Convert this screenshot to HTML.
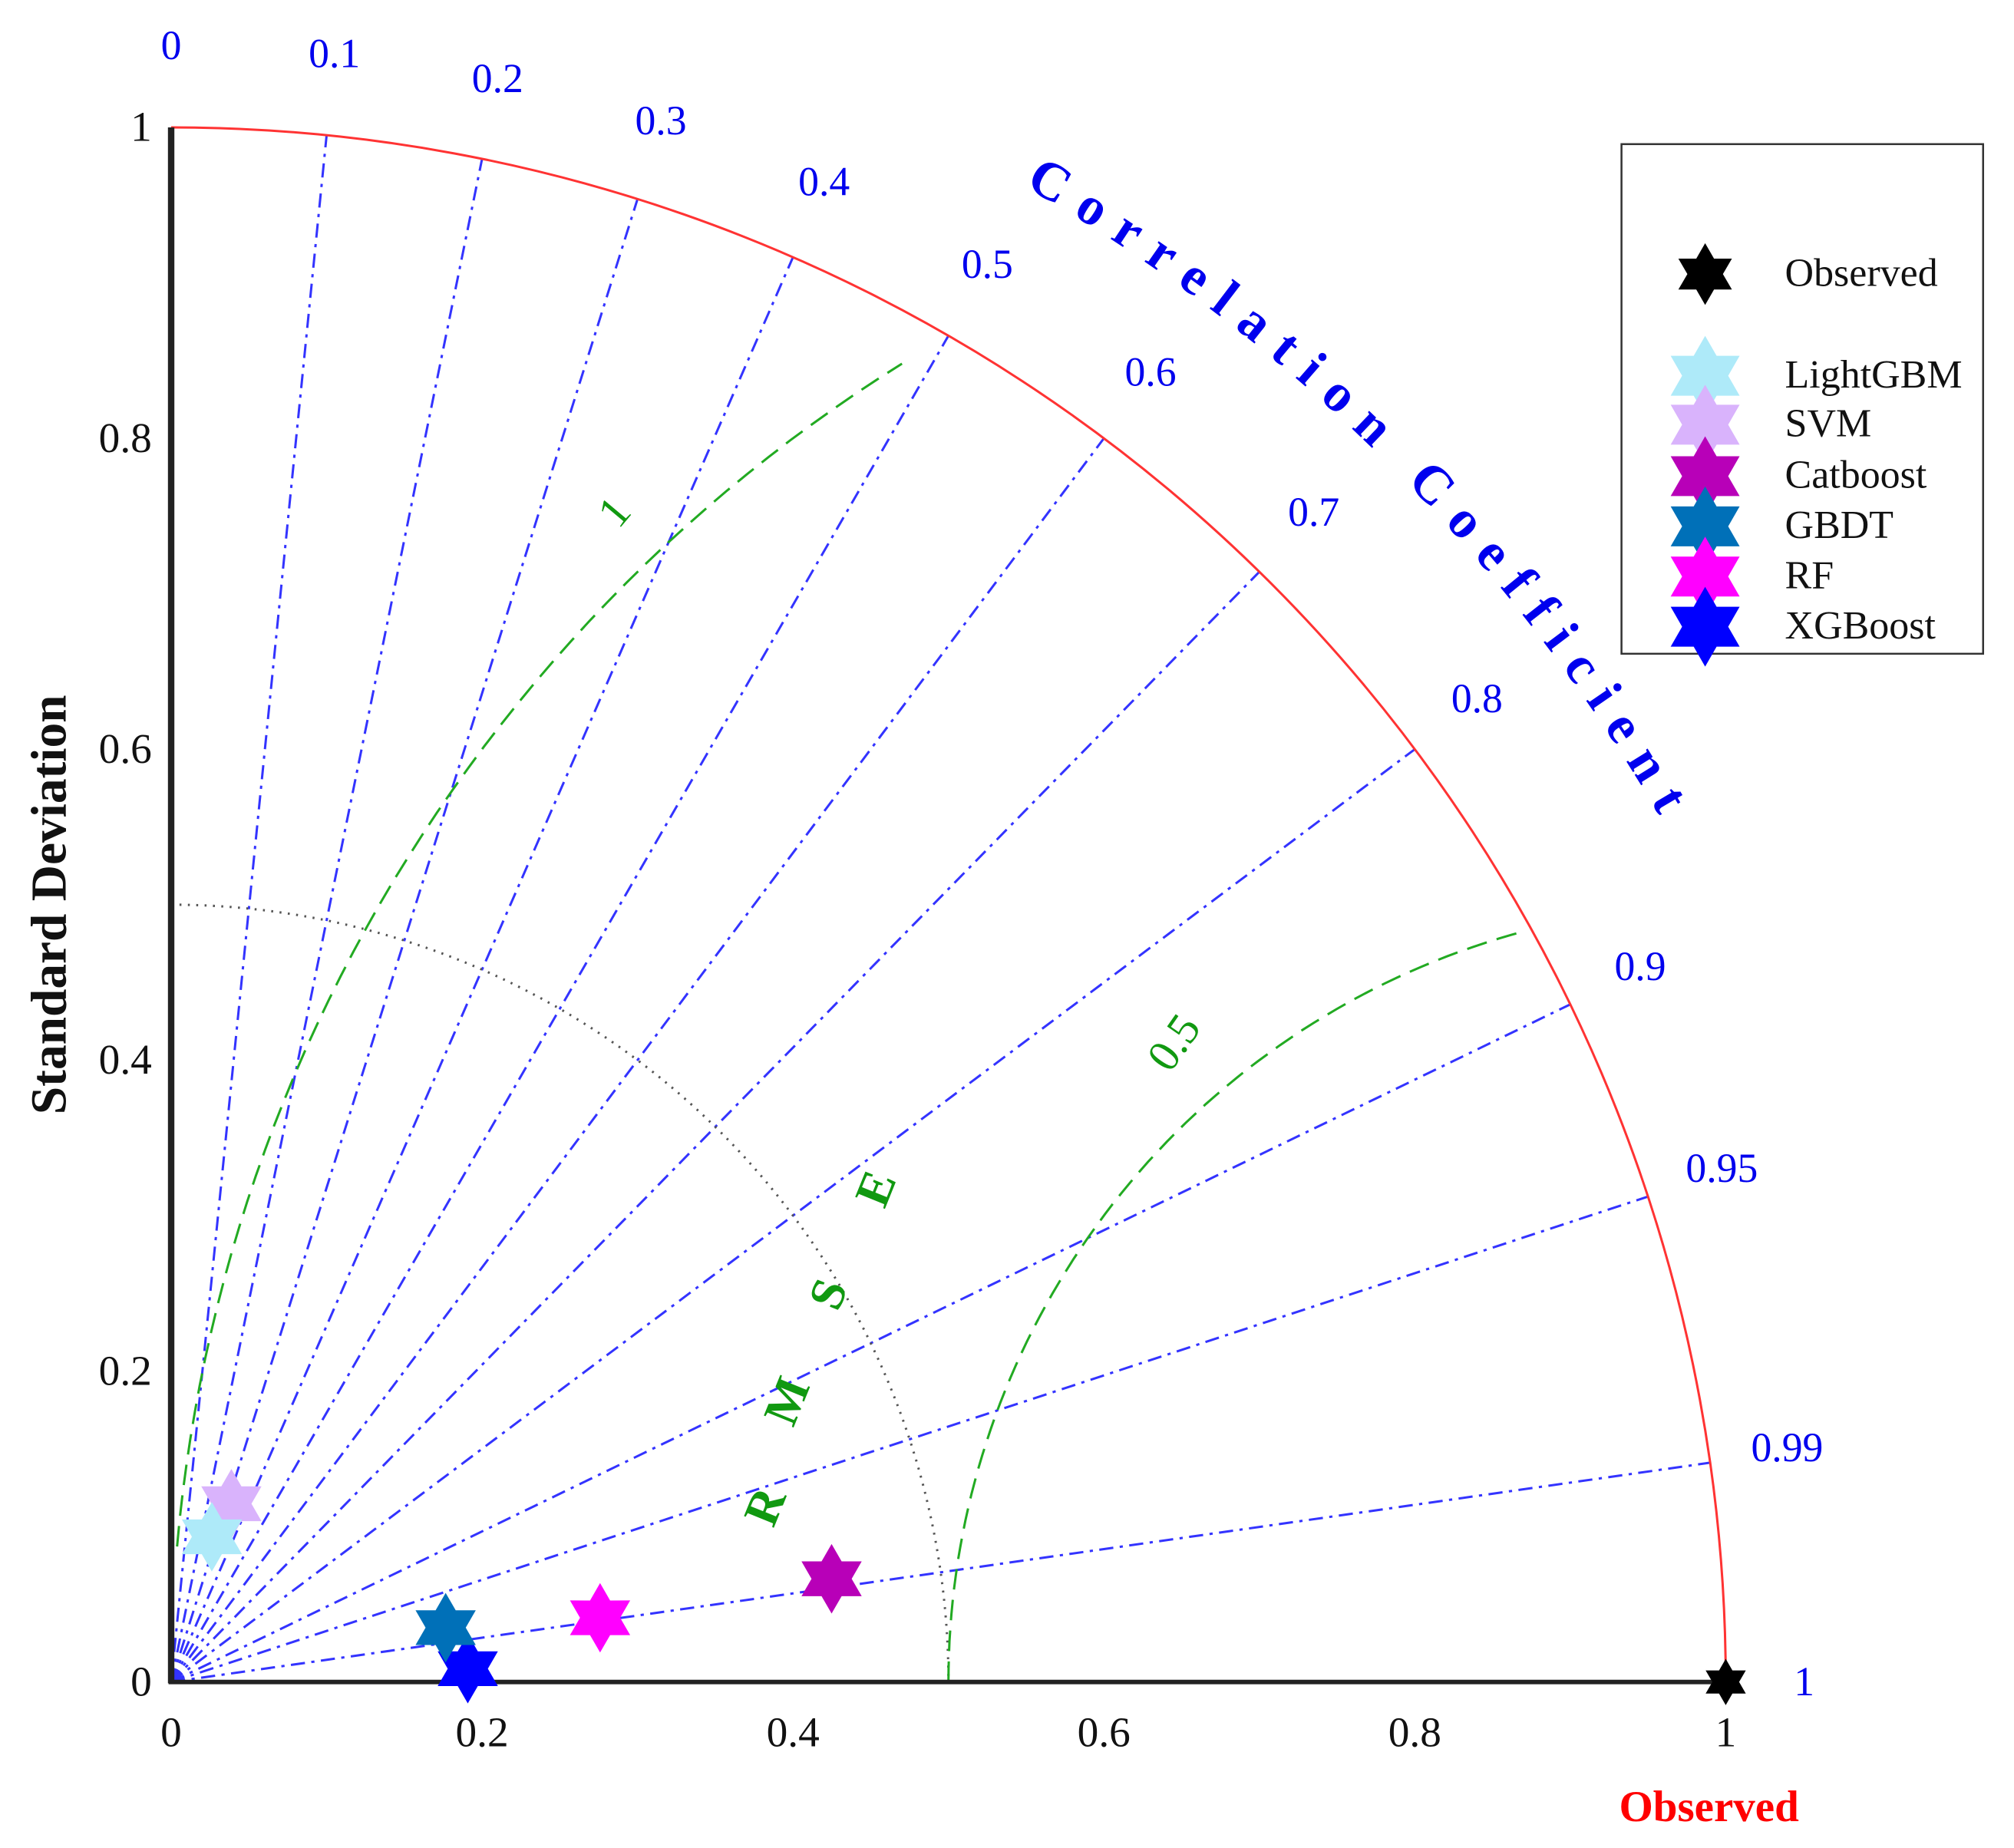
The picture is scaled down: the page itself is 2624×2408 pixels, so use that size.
<!DOCTYPE html>
<html><head><meta charset="utf-8"><style>
html,body{margin:0;padding:0;background:#fff;}
svg{display:block;}
text{font-family:"Liberation Serif",serif;}
</style></head><body>
<svg id="chart" width="2624" height="2408" viewBox="0 0 1565 1436" preserveAspectRatio="none" xmlns="http://www.w3.org/2000/svg">
<g id="g"></g>
</svg>
<script>
const models = ["Observed","LightGBM","SVM","Catboost","GBDT","RF","XGBoost"];
const stdValues = [1.0, 0.097, 0.121, 0.430, 0.180, 0.279, 0.191];
const corrValues = [1.0, 0.27, 0.32, 0.988, 0.981, 0.989, 0.999];
const colors = ["#000000","#aeeaf9","#d9b3fc","#b800b8","#0070b8","#ff00ff","#0000ff"];
const corrTicks = [0,0.1,0.2,0.3,0.4,0.5,0.6,0.7,0.8,0.9,0.95,0.99];
const corrTickLabels = ["0","0.1","0.2","0.3","0.4","0.5","0.6","0.7","0.8","0.9","0.95","0.99"];
const stdTicks = [0,0.2,0.4,0.6,0.8,1];
const stdTickLabels = ["0","0.2","0.4","0.6","0.8","1"];
const rmseLevels = [0.5,1];
const rmseLabels = ["0.5","1"];

const NS="http://www.w3.org/2000/svg";
const g=document.getElementById('g');
const OX=133, OY=1307, R=1208;
function px(std,corr){const a=Math.acos(Math.min(1,corr));return [OX+std*R*Math.cos(a), OY-std*R*Math.sin(a)];}
function xy(x,y){return [OX+x*R, OY-y*R];}
function el(tag,attrs,parent){const e=document.createElementNS(NS,tag);for(const k in attrs)e.setAttribute(k,attrs[k]);(parent||g).appendChild(e);return e;}
function txt(s,attrs){const t=el('text',attrs);t.textContent=s;return t;}

corrTicks.forEach((c,i)=>{
  if(c===0) return;
  const [x,y]=px(1,c);
  const l=el('line',{x1:OX,y1:OY,x2:x,y2:y,stroke:'#3333ff','stroke-width':1.8,'stroke-dasharray':'11,5,2.5,5'});
  
  
});
{const p=el('path',{d:`M ${OX} ${OY-0.5*R} A ${0.5*R} ${0.5*R} 0 0 1 ${OX+0.5*R} ${OY}`,fill:'none',stroke:'#555','stroke-width':1.8,'stroke-dasharray':'1.5,5'});

}
const ang0=[105,122], angStart=[180,175];
rmseLevels.forEach((r,i)=>{
  const cx=OX+R, cy=OY, rr=r*R;
  let pts=[];
  for(let a=angStart[i];a>=ang0[i];a-=1){const t=a*Math.PI/180;const x=cx+rr*Math.cos(t), y=cy-rr*Math.sin(t); if(x>=OX) pts.push(x.toFixed(1)+','+y.toFixed(1));}
  const p=el('polyline',{points:pts.join(' '),fill:'none',stroke:'#22aa22','stroke-width':1.8,'stroke-dasharray':'16,8'});
  
  
});
{let t=txt('0.5',{x:915,y:812,'font-size':35,fill:'#119911','text-anchor':'middle','dominant-baseline':'middle',transform:'rotate(-55 915 812)'});

t=txt('1',{x:480,y:400,'font-size':35,fill:'#119911','text-anchor':'middle','dominant-baseline':'middle',transform:'rotate(-50 480 400)'});

const L=[['R',598,1172],['M',615,1090],['S',647,1007],['E',684,925]];
L.forEach(a=>{const e=txt(a[0],{x:a[1],y:a[2],'font-size':38,'font-weight':'bold',fill:'#119911','text-anchor':'middle','dominant-baseline':'middle',transform:`rotate(-68 ${a[1]} ${a[2]})`});
});}
{const p=el('path',{d:`M ${OX} ${OY-R} A ${R} ${R} 0 0 1 ${OX+R} ${OY}`,fill:'none',stroke:'#ff3333','stroke-width':1.8});
}
{let a=el('line',{x1:OX,y1:OY-R,x2:OX,y2:OY+1,stroke:'#222','stroke-width':5});

a=el('line',{x1:OX-2,y1:OY,x2:OX+R,y2:OY,stroke:'#222','stroke-width':3.5});
}
stdTicks.forEach((v,i)=>{
  const [,y]=xy(0,v);
  let t=txt(stdTickLabels[i],{x:118,y:y+3,'font-size':33,'text-anchor':'end','dominant-baseline':'middle',fill:'#111'});
  
  const [x]=xy(v,0);
  t=txt(stdTickLabels[i],{x:x,y:1357,'font-size':33,'text-anchor':'middle',fill:'#111'});
  
});
corrTicks.forEach((c,i)=>{
  const [x,y]=px(1.05,c);
  const t=txt(corrTickLabels[i],{x:x,y:y,'font-size':32,'text-anchor':'middle','dominant-baseline':'middle',fill:'#0000ee'});
  
});
{const t=txt('1',{x:1402,y:1310,'font-size':32,'text-anchor':'middle','dominant-baseline':'middle',fill:'#0000ee'});
}
{const rr=1338;const a1=60.3*Math.PI/180,a2=30.2*Math.PI/180;
const p=el('path',{id:'ccpath',d:`M ${OX+rr*Math.cos(a1)} ${OY-rr*Math.sin(a1)} A ${rr} ${rr} 0 0 1 ${OX+rr*Math.cos(a2)} ${OY-rr*Math.sin(a2)}`,fill:'none',stroke:'none'});
const t=el('text',{'font-size':42,'font-weight':'bold',fill:'#0000ee'});

const tp=el('textPath',{href:'#ccpath',textLength:rr*(a1-a2),lengthAdjust:'spacing'},t);tp.textContent='Correlation Coefficient';}
{const t=txt('Standard Deviation',{x:42,y:703,'font-size':39,'font-weight':'bold','text-anchor':'middle','dominant-baseline':'middle',fill:'#111',transform:'rotate(-90 42 703)'});
}
{const t=txt('Observed',{x:1328,y:1415,'font-size':34,'font-weight':'bold','text-anchor':'middle',fill:'#ff0000'});
}
function star(cx,cy,r,fill){
  const pts=[];
  for(let k=0;k<12;k++){const a=(-90+k*30)*Math.PI/180;const rad=k%2===0?r:r*0.577;pts.push((cx+rad*Math.cos(a)).toFixed(1)+','+(cy+rad*Math.sin(a)).toFixed(1));}
  return el('polygon',{points:pts.join(' '),fill:fill});
}
for(let i=models.length-1;i>=0;i--){
  const [x,y]=px(stdValues[i],corrValues[i]);
  const s=star(x,y,i===0?18:27,colors[i]);
  
  
}
{const r=el('rect',{x:1260,y:112,width:281,height:396,fill:'#fff',stroke:'#333','stroke-width':1.5});

const ly=[213,292,330,370,409,448,487];
models.forEach((m,i)=>{
  const s=star(1325,ly[i],i===0?24:31,colors[i]);
  
  
  const t=txt(m,{x:1387,y:ly[i]+2,'font-size':31,'dominant-baseline':'middle',fill:'#111'});
  
  
});}
</script>
</body></html>
